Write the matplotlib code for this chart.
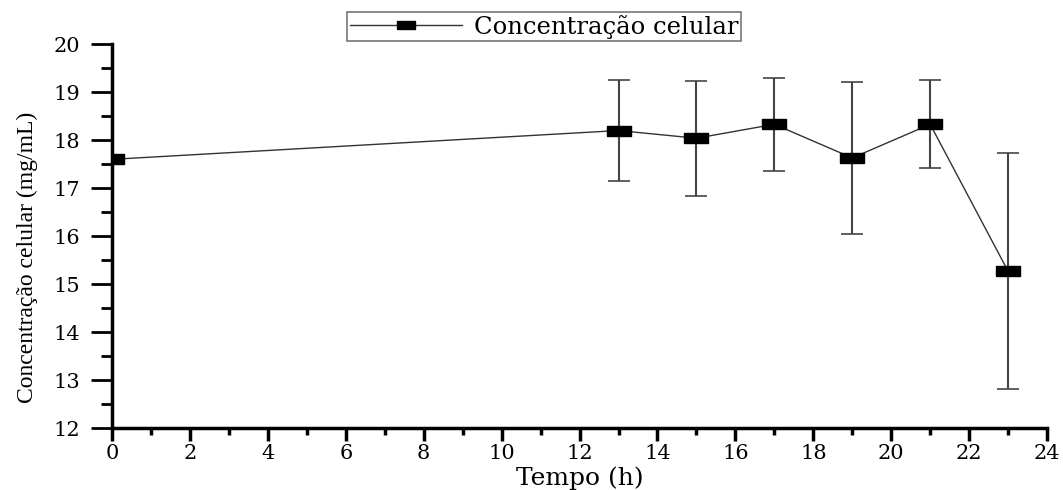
import numpy as np
import matplotlib
matplotlib.use("Agg")
import matplotlib.pyplot as plt
from matplotlib.ticker import MultipleLocator

# dados
tempo = [0, 13, 15, 17, 19, 21, 23]
concentracao = [17.60, 18.20, 18.04, 18.33, 17.63, 18.33, 15.27]
desvio = [0.0, 1.06, 1.20, 0.97, 1.59, 0.92, 2.46]

serif = ["DejaVu Serif"]
times = ["Liberation Serif", "DejaVu Serif"]

fig = plt.figure(figsize=(10.63, 4.9), dpi=100)
ax = fig.add_axes([0.1054, 0.126, 0.8796, 0.784])

# marcador retangular largo e achatado
rect = [(-2.2, -1.0), (2.2, -1.0), (2.2, 1.0), (-2.2, 1.0), (-2.2, -1.0)]

ax.errorbar(tempo, concentracao, yerr=desvio, fmt="none", ecolor="#444444",
            elinewidth=1.5, capsize=8, capthick=1.2, zorder=2)
ax.plot(tempo, concentracao, color="#333333", linewidth=1.0,
        marker=rect, markersize=17, markerfacecolor="black",
        markeredgecolor="black", label="Concentração celular", zorder=3)

ax.set_xlim(0, 24)
ax.set_ylim(12, 20)
ax.xaxis.set_major_locator(MultipleLocator(2))
ax.xaxis.set_minor_locator(MultipleLocator(1))
ax.yaxis.set_major_locator(MultipleLocator(1))
ax.yaxis.set_minor_locator(MultipleLocator(0.5))

for s in ["top", "right"]:
    ax.spines[s].set_visible(False)
for s in ["left", "bottom"]:
    ax.spines[s].set_linewidth(2.5)

ax.tick_params(axis="x", which="major", direction="out", length=9, width=2.5,
               labelsize=15, pad=2)
ax.tick_params(axis="x", which="minor", direction="out", length=5, width=2.5)
ax.tick_params(axis="y", which="major", direction="out", length=15, width=2,
               labelsize=15, pad=8)
ax.tick_params(axis="y", which="minor", direction="out", length=8, width=2)
for lbl in ax.get_xticklabels() + ax.get_yticklabels():
    lbl.set_family(serif)

ax.set_xlabel("Tempo (h)", fontsize=18, family=serif, labelpad=3)
ax.set_ylabel("Concentração celular (mg/mL)", fontsize=17, family=times)
ax.yaxis.set_label_coords(-0.079, 0.446)

leg = ax.legend(loc="center", bbox_to_anchor=(0.462, 1.045), frameon=True,
                fancybox=False, edgecolor="#555555", handlelength=4.6,
                borderpad=0.1, handletextpad=0.5, markerscale=0.75,
                prop={"family": serif, "size": 17.5})
leg.get_frame().set_linewidth(1.2)

fig.savefig("out.png", dpi=100)
